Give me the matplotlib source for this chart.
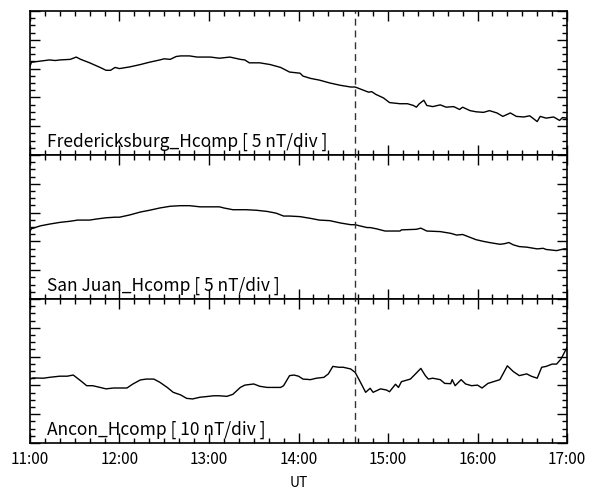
import matplotlib
matplotlib.use("Agg")
import matplotlib.pyplot as plt
from matplotlib.ticker import MultipleLocator, FuncFormatter
import numpy as np

plt.rcParams["font.family"] = ["Noto Sans CJK JP", "DejaVu Sans"]

# minutes after 11:00 UT, values in nT (arbitrary baseline)
fred_min = [0, 1, 7, 13, 17, 20, 27, 31, 34, 40, 47, 51, 54, 57, 60, 67, 74, 80, 87, 90,
            94, 98, 101, 107, 112, 121, 127, 134, 141, 144, 147, 154, 161, 168, 174, 181,
            183, 188, 194, 201, 208, 215, 218, 219, 222, 227, 229, 232, 237, 241, 248, 253,
            257, 259, 261, 264, 266, 270, 275, 279, 284, 288, 290, 295, 299, 304, 308, 313,
            317, 322, 326, 331, 335, 340, 342, 346, 351, 355, 357, 360]
fred_nt = [15.4, 16.1, 16.3, 16.5, 16.4, 16.5, 16.6, 17.0, 16.6, 16.0, 15.2, 14.7, 14.7,
           15.2, 15.0, 15.3, 15.7, 16.1, 16.5, 16.7, 16.6, 17.1, 17.2, 17.2, 17.0, 17.0,
           16.8, 17.0, 16.6, 16.5, 16.0, 16.0, 15.7, 15.2, 14.4, 14.2, 13.7, 13.3, 13.0,
           12.5, 12.1, 11.8, 11.8, 11.7, 11.4, 10.9, 11.0, 10.5, 9.9, 9.1, 8.9, 8.9, 8.6,
           8.3, 8.9, 9.5, 8.6, 8.4, 8.7, 8.3, 8.4, 7.9, 8.3, 7.7, 7.5, 7.4, 7.7, 7.3, 6.7,
           7.3, 6.7, 6.6, 6.8, 5.8, 6.7, 6.4, 6.6, 6.0, 6.5, 6.4]

sj_min = [0, 1, 7, 13, 20, 27, 32, 40, 45, 51, 57, 60, 67, 74, 80, 87, 94, 101, 107, 114,
          127, 130, 136, 145, 152, 159, 165, 170, 174, 181, 188, 194, 201, 208, 215, 218,
          221, 226, 228, 232, 238, 241, 248, 249, 259, 262, 266, 275, 282, 286, 290, 293,
          299, 304, 308, 315, 318, 321, 324, 328, 333, 340, 344, 346, 353, 358, 360]
sj_nt = [11.8, 12.2, 12.7, 13.0, 13.3, 13.5, 13.7, 13.7, 13.9, 14.1, 14.2, 14.2, 14.6,
         15.1, 15.4, 15.8, 16.1, 16.2, 16.2, 16.0, 16.0, 15.8, 15.5, 15.5, 15.4, 15.2,
         14.9, 14.4, 14.4, 14.3, 14.0, 13.7, 13.6, 13.2, 12.9, 12.9, 12.7, 12.4, 12.4,
         12.2, 11.8, 11.8, 11.8, 12.0, 12.1, 12.3, 11.8, 11.7, 11.4, 11.1, 11.2, 10.9,
         10.3, 10.0, 9.8, 9.5, 9.6, 9.8, 9.4, 9.1, 9.0, 8.7, 8.8, 8.6, 8.4, 8.7, 8.7]

anc_min = [0, 2, 9, 13, 20, 25, 29, 34, 38, 42, 47, 51, 56, 60, 65, 69, 74, 78, 83, 87,
           92, 96, 101, 105, 109, 114, 118, 123, 127, 132, 136, 141, 144, 150, 154, 159,
           163, 168, 170, 174, 177, 180, 183, 188, 192, 197, 200, 203, 207, 210, 215, 218,
           221, 225, 228, 230, 235, 239, 241, 245, 247, 249, 255, 259, 262, 265, 267, 270,
           275, 278, 282, 283, 285, 289, 292, 296, 300, 303, 307, 315, 320, 324, 328, 333,
           336, 340, 343, 346, 350, 353, 356, 360]
anc_nt = [22.2, 22.6, 22.5, 22.8, 23.2, 23.2, 23.6, 21.6, 19.9, 19.9, 19.3, 18.8, 19.1,
          19.1, 19.1, 20.5, 21.9, 22.2, 22.2, 21.1, 19.3, 17.6, 16.7, 15.5, 15.3, 15.9,
          16.1, 16.4, 16.4, 16.2, 16.9, 19.3, 20.1, 20.5, 19.7, 19.3, 19.3, 19.3, 19.9,
          23.4, 23.6, 23.2, 22.2, 22.0, 22.5, 22.8, 24.0, 26.6, 26.3, 26.3, 25.7, 24.5,
          21.6, 17.6, 19.0, 17.6, 18.8, 18.4, 17.8, 20.4, 19.3, 21.3, 22.2, 24.3, 25.9,
          23.4, 22.2, 22.5, 22.0, 20.7, 20.6, 22.0, 19.9, 22.0, 20.5, 19.9, 20.1, 19.1,
          20.7, 22.0, 26.8, 24.8, 23.4, 24.0, 23.2, 22.5, 26.3, 26.6, 27.4, 27.4, 29.2, 33.2]

labels = ["Fredericksburg_Hcomp [ 5 nT/div ]",
          "San Juan_Hcomp [ 5 nT/div ]",
          "Ancon_Hcomp [ 10 nT/div ]"]
nt_per_div = [5, 5, 10]
event_hour = 14 + 38 / 60.0
hour_ticks = [11, 12, 13, 14, 15, 16, 17]

series = [(fred_min, fred_nt), (sj_min, sj_nt), (anc_min, anc_nt)]

fig, axes = plt.subplots(3, 1, figsize=(5.95, 4.89), dpi=100, sharex=True)
fig.subplots_adjust(left=0.0504, right=0.953, top=0.9755, bottom=0.092, hspace=0)

for ax, (mins, vals), lab, div in zip(axes, series, labels, nt_per_div):
    t = 11 + np.asarray(mins) / 60.0
    ax.plot(t, vals, color="black", lw=1.0)
    ax.axvline(event_hour, color="#333333", lw=1.0, ls=(0, (5, 3.5)))
    ax.set_xlim(11, 17)
    ax.set_ylim(0, 5 * div)
    ax.yaxis.set_major_locator(MultipleLocator(div))
    ax.yaxis.set_minor_locator(MultipleLocator(div / 4))
    ax.xaxis.set_major_locator(MultipleLocator(1))
    ax.xaxis.set_minor_locator(MultipleLocator(1 / 6))
    ax.tick_params(which="both", direction="in", top=True, right=True, width=1.0)
    ax.tick_params(which="major", length=7.5)
    ax.tick_params(which="minor", length=3.5)
    ax.tick_params(axis="y", labelleft=False)
    for s in ax.spines.values():
        s.set_linewidth(1.2)
    ax.text(0.032, 0.035, lab, transform=ax.transAxes, fontsize=12.5,
            ha="left", va="bottom")

axes[-1].set_xticks(hour_ticks)
axes[-1].xaxis.set_major_formatter(FuncFormatter(lambda v, p: f"{int(round(v))}:00"))
axes[-1].tick_params(axis="x", labelsize=11, pad=5)
axes[-1].set_xlabel("UT", fontsize=10, labelpad=6)

fig.savefig("out.png", dpi=100)
